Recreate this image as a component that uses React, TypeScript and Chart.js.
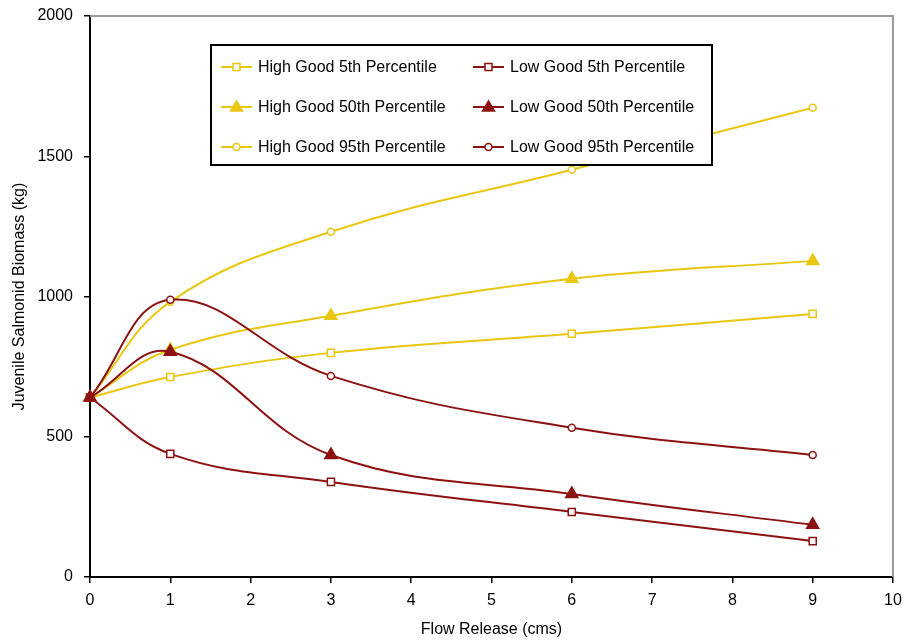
import React, { useEffect, useRef } from "react";
import { Chart, registerables } from "chart.js";

Chart.register(...registerables);

const flowRelease = [0, 1, 3, 6, 9];
const highGood5 = [640, 713, 799, 867, 938];
const highGood50 = [640, 810, 931, 1063, 1127];
const highGood95 = [640, 981, 1231, 1452, 1673];
const lowGood5 = [640, 439, 339, 232, 128];
const lowGood50 = [640, 803, 435, 296, 186];
const lowGood95 = [640, 988, 717, 532, 435];

const seriesNames = [
  "High Good 5th Percentile",
  "High Good 50th Percentile",
  "High Good 95th Percentile",
  "Low Good 5th Percentile",
  "Low Good 50th Percentile",
  "Low Good 95th Percentile",
];

const xTitle = "Flow Release (cms)";
const yTitle = "Juvenile Salmonid Biomass (kg)";

const YELLOW = "#E8C612";
const RED = "#8C1212";
const FONT = "'Liberation Sans', Arial, sans-serif";

type Marker = "rect" | "triangle" | "circle";

function drawMarker(ctx: CanvasRenderingContext2D, kind: Marker, x: number, y: number, color: string) {
  ctx.save();
  ctx.lineWidth = 1.5;
  ctx.strokeStyle = color;
  ctx.beginPath();
  if (kind === "rect") {
    ctx.fillStyle = "#fff";
    ctx.rect(x - 3.5, y - 3.5, 7, 7);
    ctx.fill();
    ctx.stroke();
  } else if (kind === "triangle") {
    ctx.fillStyle = color;
    ctx.moveTo(x, y - 6);
    ctx.lineTo(x + 6, y + 4);
    ctx.lineTo(x - 6, y + 4);
    ctx.closePath();
    ctx.fill();
    ctx.stroke();
  } else {
    ctx.fillStyle = "#fff";
    ctx.arc(x, y, 3.5, 0, Math.PI * 2);
    ctx.fill();
    ctx.stroke();
  }
  ctx.restore();
}

const legendPlugin = {
  id: "boxLegend",
  afterDraw(chart: any) {
    const ctx: CanvasRenderingContext2D = chart.ctx;
    ctx.save();
    const a = chart.chartArea;
    ctx.strokeStyle = "#9a9a9a";
    ctx.lineWidth = 2;
    ctx.beginPath();
    ctx.moveTo(a.left, a.top);
    ctx.lineTo(a.right, a.top);
    ctx.lineTo(a.right, a.bottom);
    ctx.stroke();

    const bx = 211, by = 45, bw = 501, bh = 120;
    ctx.fillStyle = "#fff";
    ctx.fillRect(bx, by, bw, bh);
    ctx.strokeStyle = "#000";
    ctx.lineWidth = 2;
    ctx.strokeRect(bx, by, bw, bh);

    const rows = [67, 107, 147];
    const cols = [221, 473];
    const markers: Marker[] = ["rect", "triangle", "circle"];
    const ds = chart.data.datasets;
    ctx.font = `16px ${FONT}`;
    ctx.textBaseline = "middle";
    ctx.textAlign = "left";
    for (let c = 0; c < 2; c++) {
      for (let r = 0; r < 3; r++) {
        const d = ds[c * 3 + r];
        const x0 = cols[c];
        const y = rows[r];
        ctx.strokeStyle = d.borderColor;
        ctx.lineWidth = 2;
        ctx.beginPath();
        ctx.moveTo(x0, y);
        ctx.lineTo(x0 + 31, y);
        ctx.stroke();
        drawMarker(ctx, markers[r], x0 + 15.5, y, d.borderColor);
        ctx.fillStyle = "#000";
        ctx.fillText(d.label, x0 + 37, y + 1);
      }
    }
    ctx.restore();
  },
};

function toPoints(vals: number[]) {
  return vals.map((v, i) => ({ x: flowRelease[i], y: v }));
}

export default function App() {
  const ref = useRef<HTMLCanvasElement | null>(null);
  useEffect(() => {
    if (!ref.current) return;
    const mk = (label: string, vals: number[], color: string, style: Marker, order: number) => ({
      label,
      data: toPoints(vals),
      borderColor: color,
      backgroundColor: color,
      borderWidth: 2,
      tension: 0.4,
      order,
      pointStyle: style,
      pointRadius: style === "rect" ? 5 : style === "triangle" ? 7 : 3.5,
      pointBorderWidth: 1.5,
      pointBorderColor: color,
      pointBackgroundColor: style === "triangle" ? color : "#fff",
      clip: false as any,
    });
    const chart = new Chart(ref.current, {
      type: "line",
      data: {
        datasets: [
          mk(seriesNames[0], highGood5, YELLOW, "rect", 6),
          mk(seriesNames[1], highGood50, YELLOW, "triangle", 5),
          mk(seriesNames[2], highGood95, YELLOW, "circle", 4),
          mk(seriesNames[3], lowGood5, RED, "rect", 3),
          mk(seriesNames[4], lowGood50, RED, "triangle", 1),
          mk(seriesNames[5], lowGood95, RED, "circle", 2),
        ],
      },
      options: {
        animation: false,
        responsive: false,
        layout: { padding: { left: 0, right: 11, top: 16, bottom: 0 } },
        plugins: { legend: { display: false }, tooltip: { enabled: false } },
        scales: {
          x: {
            type: "linear",
            min: 0,
            max: 10,
            ticks: {
              stepSize: 1, color: "#000", font: { family: FONT, size: 16 }, padding: 8, maxRotation: 0,
              callback: (v: any) => String(v),
            },
            grid: { drawOnChartArea: false, drawTicks: true, tickLength: 6, color: "#000", lineWidth: 1.5 },
            border: { color: "#000", width: 2 },
            title: { display: true, text: xTitle, color: "#000", font: { family: FONT, size: 16 }, padding: { top: 0, bottom: 1 } },
            afterFit: (s: any) => { s.height = 63; s.paddingLeft = 0; s.paddingRight = 0; },
          },
          y: {
            type: "linear",
            min: 0,
            max: 2000,
            ticks: {
              stepSize: 500, color: "#000", font: { family: FONT, size: 16 }, padding: 11,
              callback: (v: any) => String(v),
            },
            grid: { drawOnChartArea: false, drawTicks: true, tickLength: 6, color: "#000", lineWidth: 1.5 },
            border: { color: "#000", width: 2 },
            title: { display: true, text: yTitle, color: "#000", font: { family: FONT, size: 16 }, padding: { top: 10, bottom: 0 } },
            afterFit: (s: any) => { s.width = 90; s.paddingTop = 0; s.paddingBottom = 0; },
          },
        },
      } as any,
      plugins: [legendPlugin],
    });
    return () => chart.destroy();
  }, []);
  return (
    <div style={{ position: "absolute", left: 0, top: 0, width: 904, height: 640, background: "#fff" }}>
      <canvas ref={ref} width={904} height={640} style={{ display: "block" }} />
    </div>
  );
}
